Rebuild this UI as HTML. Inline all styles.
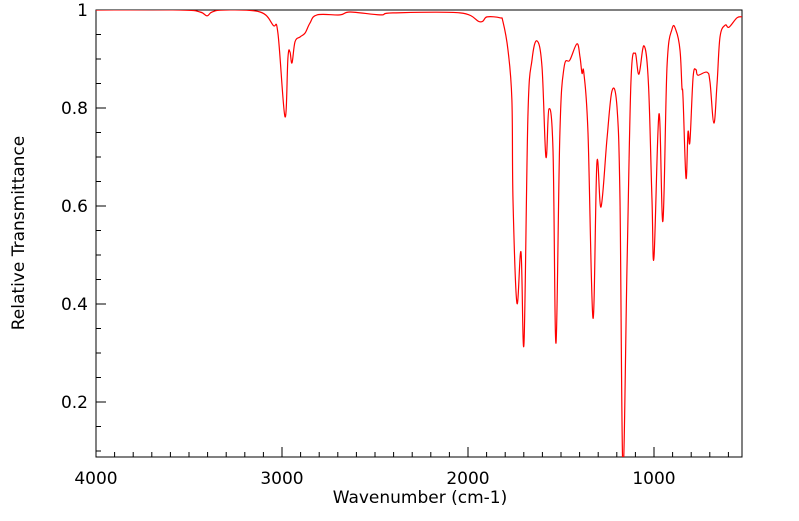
<!DOCTYPE html>
<html><head><meta charset="utf-8"><style>
body{margin:0;background:#fff;width:799px;height:516px;overflow:hidden}
text{font-family:"DejaVu Sans","Liberation Sans",sans-serif;fill:#000}
</style></head><body>
<svg width="799" height="516">
<defs><clipPath id="pc"><rect x="96" y="10" width="646" height="447"/></clipPath></defs>
<rect x="96" y="10" width="646" height="447" fill="none" stroke="#000" stroke-width="1"/>
<g id="ticks"></g>
<path id="spec" fill="none" stroke="#ff0000" stroke-width="1.2" clip-path="url(#pc)"/>
<text x="420" y="503" font-size="17" text-anchor="middle">Wavenumber (cm-1)</text>
<text transform="translate(24,233) rotate(-90)" font-size="17" text-anchor="middle">Relative Transmittance</text>
</svg>
<script>
const wavenumbers=[4000,3548,3441,3403,3376,3306,3118,3048,3022,2984,2968,2957,2946,2930,2903,2876,2850,2812,2688,2634,2473,2403,2043,1936,1898,1828,1812,1785,1764,1758,1737,1715,1699,1678,1656,1629,1602,1581,1565,1543,1527,1506,1484,1452,1414,1398,1387,1377,1355,1328,1307,1285,1253,1226,1199,1183,1167,1145,1124,1102,1081,1054,1030,1011,1000,973,952,930,903,882,860,850,844,828,817,807,790,774,764,715,699,678,661,645,618,597,554,527];
const transmittance=[1.000,1.000,0.996,0.988,0.996,1.000,0.996,0.969,0.953,0.782,0.904,0.914,0.892,0.935,0.945,0.953,0.973,0.990,0.990,0.996,0.990,0.994,0.994,0.976,0.986,0.984,0.976,0.918,0.816,0.612,0.402,0.506,0.320,0.782,0.898,0.937,0.884,0.700,0.798,0.714,0.320,0.749,0.882,0.898,0.931,0.904,0.871,0.871,0.749,0.371,0.688,0.598,0.735,0.835,0.802,0.612,0.061,0.476,0.851,0.912,0.869,0.927,0.851,0.612,0.496,0.788,0.569,0.884,0.961,0.959,0.918,0.843,0.822,0.657,0.751,0.731,0.863,0.878,0.867,0.873,0.853,0.769,0.851,0.945,0.969,0.965,0.984,0.986];
const xTicks=[4000,3000,2000,1000];
const yTicks=[1,0.8,0.6,0.4,0.2];
const yLabels=["1","0.8","0.6","0.4","0.2"];
const X=w=>96+(4000-w)*0.186;
const Y=t=>10+(1-t)*490;
const NS="http://www.w3.org/2000/svg";
const g=document.getElementById('ticks');
function line(x1,y1,x2,y2){const l=document.createElementNS(NS,'line');l.setAttribute('x1',x1);l.setAttribute('y1',y1);l.setAttribute('x2',x2);l.setAttribute('y2',y2);l.setAttribute('stroke','#000');


g.appendChild(l);}
function txt(x,y,s,anc){const t=document.createElementNS(NS,'text');t.setAttribute('x',x);t.setAttribute('y',y);t.setAttribute('font-size','17');t.setAttribute('text-anchor',anc);t.textContent=s;


g.appendChild(t);}
for(let w=4000;w>=600;w-=100){const x=X(w);const major=w%1000===0;line(x,457,x,457-(major?10:5));}
xTicks.forEach(w=>txt(X(w),484,String(w),'middle'));
for(let t=0.1;t<=1.001;t+=0.05){const y=Y(t);const major=Math.abs(t*10-Math.round(t*10))<1e-6&&Math.round(t*10)%2===0;line(96,y,96+(major?10:5),y);}
yTicks.forEach((t,i)=>txt(88,Y(t)+6,yLabels[i],'end'));
const P=wavenumbers.map((w,i)=>[X(w),Y(transmittance[i])]);
let d='M'+P[0][0].toFixed(1)+','+P[0][1].toFixed(1);
for(let i=0;i<P.length-1;i++){
  const p0=P[Math.max(0,i-1)],p1=P[i],p2=P[i+1],p3=P[Math.min(P.length-1,i+2)];
  const k=0.18;
  const c1=[p1[0]+(p2[0]-p0[0])*k,p1[1]+(p2[1]-p0[1])*k];
  const c2=[p2[0]-(p3[0]-p1[0])*k,p2[1]-(p3[1]-p1[1])*k];
  d+='C'+c1[0].toFixed(1)+','+c1[1].toFixed(1)+' '+c2[0].toFixed(1)+','+c2[1].toFixed(1)+' '+p2[0].toFixed(1)+','+p2[1].toFixed(1);
}
document.getElementById('spec').setAttribute('d',d);
</script>
</body></html>
